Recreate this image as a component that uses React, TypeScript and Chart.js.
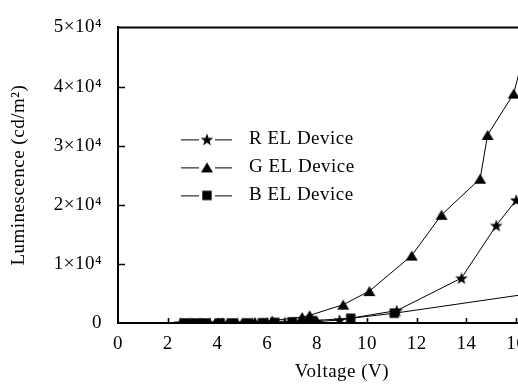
import React, { useEffect, useRef } from 'react';
import { Chart, registerables } from 'chart.js';

Chart.register(...registerables);

// Luminance–voltage curves of the three EL devices
const rVoltage = [2.5, 2.9, 3.3, 3.7, 4.2, 4.8, 5.4, 6.0, 6.7, 7.4, 8.0, 8.9, 11.2, 13.8, 15.2, 16.0];
const rLum = [0, 0, 0, 0, 0, 10, 20, 40, 80, 150, 250, 500, 2100, 7600, 16500, 20800];

const gVoltage = [2.6, 3.0, 3.4, 3.9, 4.4, 5.0, 5.5, 6.2, 7.4, 7.7, 9.05, 10.1, 11.8, 13.0, 14.55, 14.85, 15.9, 16.4];
const gLum = [0, 0, 0, 20, 50, 80, 150, 400, 1000, 1300, 3100, 5400, 11400, 18300, 24400, 31800, 38800, 47000];

const bVoltage = [2.7, 3.1, 3.5, 4.1, 4.6, 5.2, 5.8, 6.3, 7.0, 7.8, 9.35, 11.1, 18.0];
const bLum = [0, 0, 0, 0, 0, 20, 50, 100, 200, 400, 800, 1650, 5850];

const seriesNames = ['R EL Device', 'G EL Device', 'B EL Device'];
const yTickLabels = ['0', '1×10⁴', '2×10⁴', '3×10⁴', '4×10⁴', '5×10⁴'];
const xTitle = 'Voltage (V)';
const yTitle = 'Luminescence (cd/m²)';

const X_MAX = 18;
const Y_MAX = 50000;

const FONT = '"Liberation Serif", "Times New Roman", serif';
const FONT_SIZE = 19;
const SPACING = '0.5px';
const INK = '#000';

type MarkerKind = 'star' | 'triangle' | 'square';

function makeMarker(kind: MarkerKind): HTMLCanvasElement {
  const c = document.createElement('canvas');
  c.width = 14;
  c.height = 14;
  const g = c.getContext('2d')!;
  g.fillStyle = INK;
  g.beginPath();
  const cx = 7;
  const cy = 7;
  if (kind === 'star') {
    const ro = 6.6;
    const ri = 2.7;
    for (let i = 0; i < 10; i++) {
      const r = i % 2 ? ri : ro;
      const a = -Math.PI / 2 + (i * Math.PI) / 5;
      const px = cx + r * Math.cos(a);
      const py = cy + 0.6 + r * Math.sin(a);
      if (i === 0) g.moveTo(px, py);
      else g.lineTo(px, py);
    }
  } else if (kind === 'triangle') {
    g.moveTo(cx, cy - 5);
    g.lineTo(cx + 6, cy + 5);
    g.lineTo(cx - 6, cy + 5);
  } else {
    g.rect(cx - 4.7, cy - 4.7, 9.4, 9.4);
  }
  g.closePath();
  g.fill();
  return c;
}

// slightly wider glyph spacing for every text the chart draws
const letterSpacing = {
  id: 'letterSpacing',
  beforeUpdate(chart: any) {
    chart.ctx.letterSpacing = SPACING;
  },
  beforeDraw(chart: any) {
    chart.ctx.letterSpacing = SPACING;
  },
};

// inward tick marks and the top edge of the frame
const frameTicks = {
  id: 'frameTicks',
  afterDraw(chart: any) {
    const { ctx, chartArea, scales } = chart;
    const xs = scales.x;
    const ys = scales.y;
    ctx.save();
    ctx.strokeStyle = INK;
    ctx.lineWidth = 1.6;
    ctx.beginPath();
    xs.ticks.forEach((t: any, i: number) => {
      if (t.value === 0) return;
      const px = Math.round(xs.getPixelForTick(i)) + 0.5;
      ctx.moveTo(px, chartArea.bottom);
      ctx.lineTo(px, chartArea.bottom - 5);
    });
    ys.ticks.forEach((t: any, i: number) => {
      if (t.value === 0 || t.value === Y_MAX) return;
      const py = Math.round(ys.getPixelForTick(i)) + 0.5;
      ctx.moveTo(chartArea.left, py);
      ctx.lineTo(chartArea.left + 7, py);
    });
    ctx.stroke();
    ctx.lineWidth = 2;
    ctx.beginPath();
    ctx.moveTo(chartArea.left - 1, chartArea.top);
    ctx.lineTo(chartArea.right, chartArea.top);
    ctx.stroke();
    ctx.restore();
  },
};

// key with line–marker–line samples inside the plot
const seriesKey = {
  id: 'seriesKey',
  afterDatasetsDraw(chart: any) {
    const { ctx, chartArea } = chart;
    ctx.save();
    ctx.letterSpacing = SPACING;
    chart.data.datasets.forEach((ds: any, i: number) => {
      const y = chartArea.top + 112 + i * 28;
      const x0 = chartArea.left + 63;
      ctx.strokeStyle = INK;
      ctx.lineWidth = 1;
      ctx.beginPath();
      ctx.moveTo(x0, y + 0.5);
      ctx.lineTo(x0 + 18, y + 0.5);
      ctx.moveTo(x0 + 34, y + 0.5);
      ctx.lineTo(x0 + 51, y + 0.5);
      ctx.stroke();
      const img = ds.pointStyle as HTMLCanvasElement;
      ctx.drawImage(img, x0 + 26 - img.width / 2, y - img.height / 2);
      ctx.font = `${FONT_SIZE}px ${FONT}`;
      ctx.fillStyle = INK;
      ctx.textBaseline = 'middle';
      ctx.textAlign = 'left';
      ctx.fillText(ds.label, x0 + 68, y);
    });
    ctx.restore();
  },
};

function toPoints(xs: number[], ys: number[]) {
  return xs.map((x, i) => ({ x, y: ys[i] }));
}

export default function App() {
  const ref = useRef<HTMLCanvasElement>(null);

  useEffect(() => {
    const canvas = ref.current;
    if (!canvas) return;
    const markers = {
      star: makeMarker('star'),
      triangle: makeMarker('triangle'),
      square: makeMarker('square'),
    };
    const lineStyle = {
      borderColor: INK,
      backgroundColor: INK,
      borderWidth: 1,
      showLine: true,
      pointRadius: 6,
      tension: 0,
    };
    const font = { family: FONT, size: FONT_SIZE };
    const chart = new Chart(canvas, {
      type: 'scatter',
      data: {
        datasets: [
          { ...lineStyle, label: seriesNames[0], data: toPoints(rVoltage, rLum), pointStyle: markers.star },
          { ...lineStyle, label: seriesNames[1], data: toPoints(gVoltage, gLum), pointStyle: markers.triangle },
          { ...lineStyle, label: seriesNames[2], data: toPoints(bVoltage, bLum), pointStyle: markers.square },
        ],
      },
      options: {
        responsive: false,
        animation: false,
        devicePixelRatio: 1,
        layout: { padding: { left: 0, top: 20, right: 24, bottom: 0 } },
        plugins: {
          legend: { display: false },
          tooltip: { enabled: false },
        },
        scales: {
          x: {
            type: 'linear',
            min: 0,
            max: X_MAX,
            afterFit: (s: any) => {
              s.height = 62;
            },
            grid: { display: false, drawTicks: false },
            border: { display: true, color: INK, width: 2 },
            ticks: {
              stepSize: 2,
              padding: 10,
              color: INK,
              font,
              callback: (v: any) => String(v),
            },
            title: {
              display: true,
              text: xTitle,
              color: INK,
              font,
              padding: { top: 0, bottom: 2 },
            },
          },
          y: {
            type: 'linear',
            min: 0,
            max: Y_MAX,
            afterFit: (s: any) => {
              s.width = 118;
            },
            grid: { display: false, drawTicks: false },
            border: { display: true, color: INK, width: 2 },
            ticks: {
              stepSize: 10000,
              padding: 16,
              color: INK,
              font,
              callback: (_v: any, i: number) => yTickLabels[i],
            },
            title: {
              display: true,
              text: yTitle,
              color: INK,
              font,
              padding: { top: 8, bottom: 0 },
            },
          },
        },
      },
      plugins: [letterSpacing, frameTicks, seriesKey],
    } as any);
    return () => chart.destroy();
  }, []);

  return (
    <div
      style={{
        position: 'fixed',
        left: 0,
        top: 0,
        width: 518,
        height: 385,
        overflow: 'hidden',
        background: '#fff',
      }}
    >
      <canvas ref={ref} width={590} height={385} style={{ display: 'block', width: 590, height: 385 }} />
    </div>
  );
}
